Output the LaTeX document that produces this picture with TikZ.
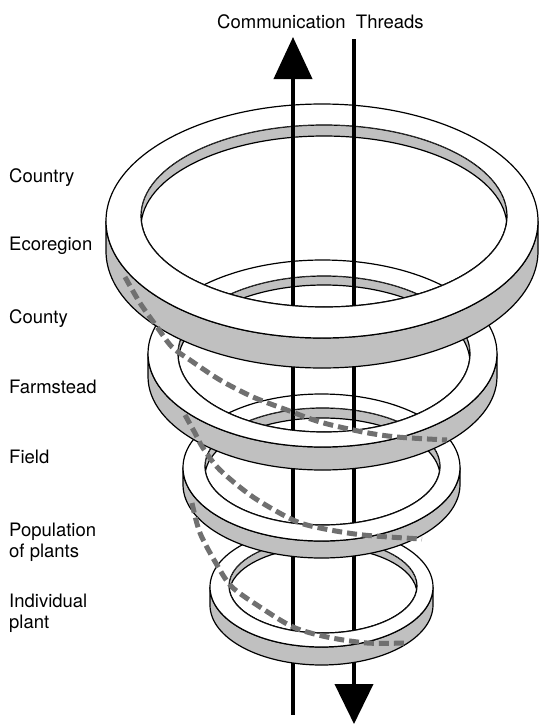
\documentclass[tikz,border=0pt]{standalone}
\usepackage{fontspec}
\setmainfont{TeX Gyre Heros}
\usetikzlibrary{arrows.meta}

\definecolor{bandgray}{RGB}{192,192,192}
\definecolor{dashgray}{RGB}{112,112,112}

% rings from the top down: cx/cy/a/b/thickness/inner cx/inner cy/inner a/inner b/wall
\def\ringstop{322/221/216/117/30/324/216/183/91/11,
  322.5/353.5/174.5/93.5/23/324/354/146/78/9,
  321.5/467.5/138.5/73.5/17/322.5/466.5/117.5/58.5/10,
  321.5/587/111.5/60/18/323/586/94/47/8}
\def\ringsup{321.5/587/111.5/60/18/323/586/94/47/8,
  321.5/467.5/138.5/73.5/17/322.5/466.5/117.5/58.5/10,
  322.5/353.5/174.5/93.5/23/324/354/146/78/9,
  322/221/216/117/30/324/216/183/91/11}

\begin{document}
\begin{tikzpicture}[x=1pt,y=-1pt,
    band/.style={fill=bandgray,draw=black,line width=1.2pt},
    face/.style={fill=white,draw=black,line width=1.2pt},
    thread/.style={line width=4pt},
    spiral/.style={draw=dashgray,line width=5pt,dash pattern=on 10pt off 5pt},
    lbl/.style={font=\fontsize{18.5}{21}\selectfont,inner sep=0pt,anchor=base west,align=left}]
  \useasboundingbox (0,0) rectangle (539,724);

  % the rings, lowest first
  \foreach \cx/\cy/\a/\b/\t/\ix/\iy/\ia/\ib/\c in \ringsup{
    \filldraw[band] (\cx-\a,\cy) -- (\cx-\a,\cy+\t)
      arc[start angle=180,end angle=0,x radius=\a,y radius=\b] -- (\cx+\a,\cy)
      arc[start angle=0,end angle=180,x radius=\a,y radius=\b] -- cycle;
    \filldraw[face,even odd rule] (\cx,\cy) ellipse[x radius=\a,y radius=\b]
      (\ix,\iy) ellipse[x radius=\ia,y radius=\ib];
    \begin{scope}
      \clip (\ix,\iy) ellipse[x radius=\ia,y radius=\ib];
      \filldraw[band,even odd rule] (\ix,\iy) ellipse[x radius=\ia,y radius=\ib]
        (\ix,\iy+\c) ellipse[x radius=\ia,y radius=\ib];
    \end{scope}
  }

  % threads, hidden behind the front of each ring
  \foreach \xt/\ytop/\ybot in {293/60/715,354/39/700}{
    \xdef\ystart{\ytop}
    \foreach \cx/\cy/\a/\b/\t/\ix/\iy/\ia/\ib/\c in \ringstop{
      \pgfmathsetmacro\yin{\iy+\ib*sqrt(1-((\xt-\ix)/\ia)^2)}
      \pgfmathsetmacro\yout{\cy+\t+\b*sqrt(1-((\xt-\cx)/\a)^2)}
      \draw[thread] (\xt,\ystart) -- (\xt,\yin);
      \xdef\ystart{\yout}
    }
    \draw[thread] (\xt,\ystart) -- (\xt,\ybot);
  }
  \draw[thread,-{Triangle[length=42pt,width=38pt]}] (293,100) -- (293,37);
  \draw[thread,-{Triangle[length=40pt,width=38pt]}] (354,680) -- (354,724);

  % dashed spiral between the rings
  \draw[spiral] plot[smooth] coordinates {(125,277) (140,303) (157,327) (172,347)
    (190,360) (220,380) (253,397) (287,410) (320,422) (363,432) (397,437) (447,440)};
  \draw[spiral] plot[smooth] coordinates {(185,415) (195,433) (203,448) (220,470)
    (253,497) (293,520) (320,528) (363,535) (422,539)};
  \draw[spiral] plot[smooth] coordinates {(192,503) (200,533) (217,565) (232,587)
    (260,607) (293,627) (327,637) (367,643) (405,643)};

  \node[lbl] (title) at (217,28) {Communication\ \ Threads};
  \node[lbl] (country) at (9,182) {Country};
  \node[lbl] (ecoregion) at (9,250) {Ecoregion};
  \node[lbl] (county) at (9,323) {County};
  \node[lbl] (farmstead) at (9,393) {Farmstead};
  \node[lbl] (field) at (9,463) {Field};
  \node[lbl] (population) at (9,557) {Population\\of plants};
  \node[lbl] (individual) at (9,628) {Individual\\plant};
\end{tikzpicture}
\end{document}
